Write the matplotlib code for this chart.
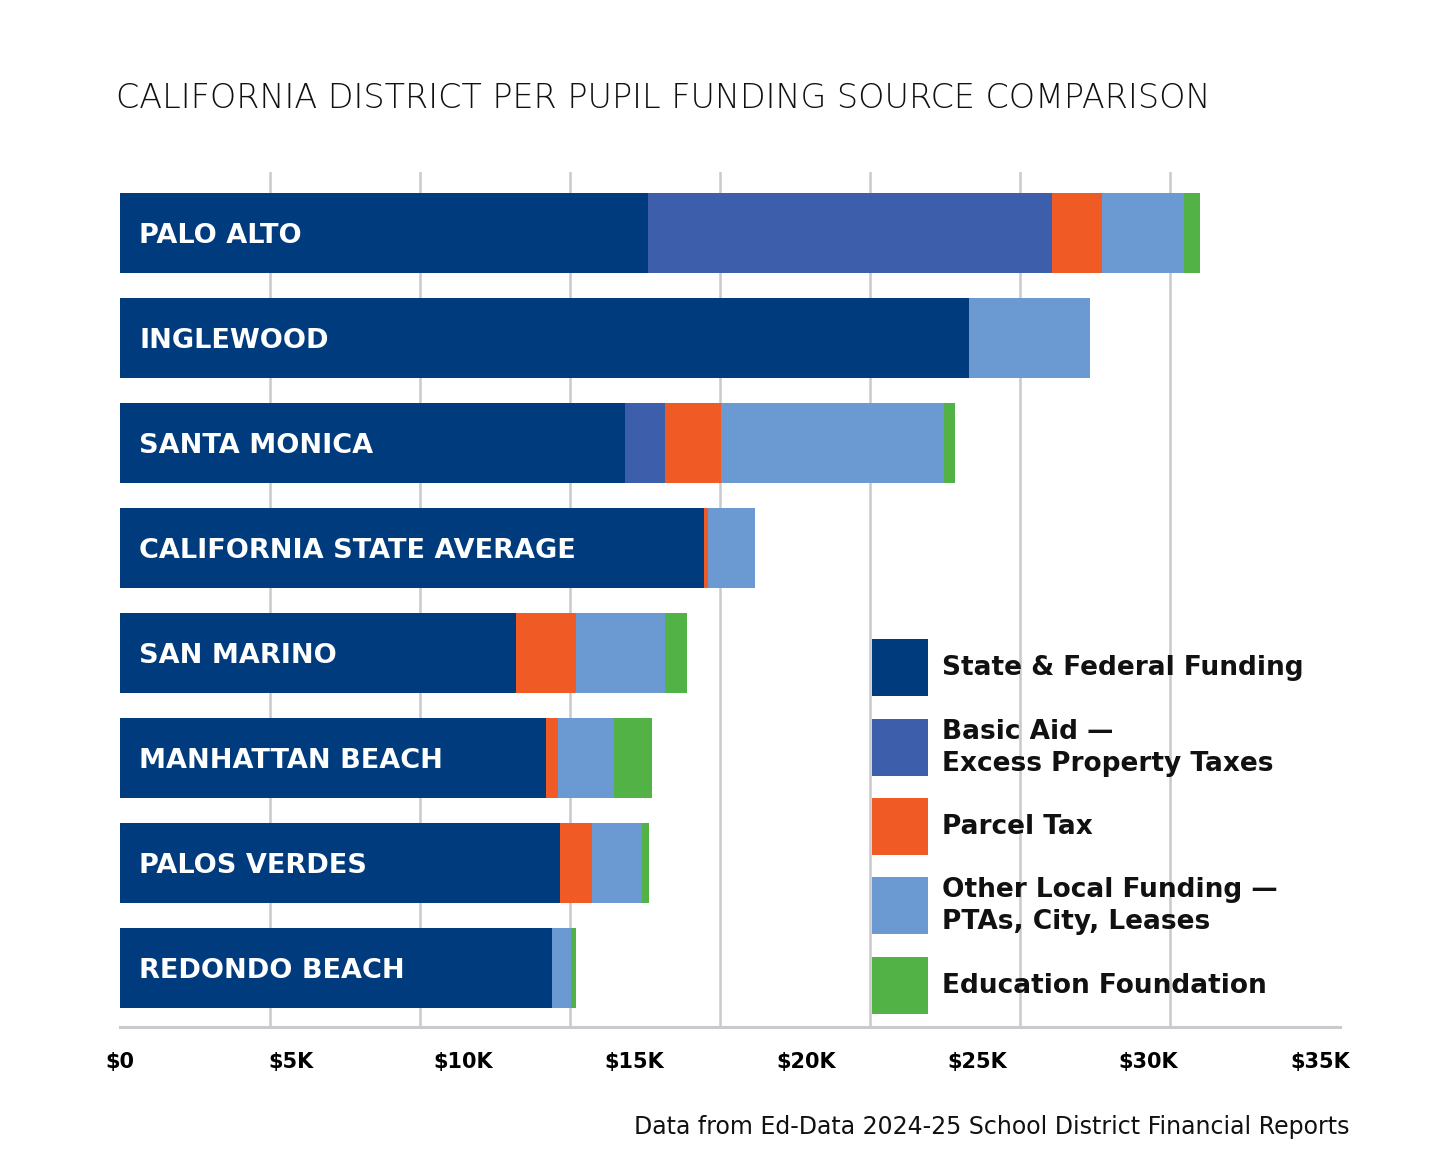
#Stacked per pupil funding bars for a few California districts
import matplotlib
matplotlib.use('Agg')
import matplotlib.pyplot as plt
import matplotlib.ticker as mtick
from matplotlib.patches import Rectangle
import numpy as np

#Data (dollars per pupil)
districts = ['PALO ALTO', 'INGLEWOOD', 'SANTA MONICA', 'CALIFORNIA STATE AVERAGE',
             'SAN MARINO', 'MANHATTAN BEACH', 'PALOS VERDES', 'REDONDO BEACH']
state_federal = [15400, 24750, 14730, 17040, 11540, 12420, 12830, 12600]
basic_aid     = [11780,     0,  1170,     0,     0,     0,     0,     0]
parcel_tax    = [ 1460,     0,  1630,   100,  1760,   360,   940,     0]
other_local   = [ 2380,  3530,  6490,  1380,  2600,  1640,  1460,   560]
ed_foundation = [  480,     0,   340,     0,   630,  1110,   200,   130]

sources = ['State & Federal Funding', 'Basic Aid \u2014\nExcess Property Taxes', 'Parcel Tax',
           'Other Local Funding \u2014\nPTAs, City, Leases', 'Education Foundation']
colors = ['#003C7D', '#3D5EAA', '#F05A24', '#6A9AD1', '#53B245']

xticks = [0, 5000, 10000, 15000, 20000, 25000, 30000, 35000]
xticklabels = ['$0', '$5K', '$10K', '$15K', '$20K', '$25K', '$30K', '$35K']

W, H = 1447, 1175
plt.rcParams['font.family'] = ['DejaVu Sans']

fig = plt.figure(figsize=(W/100., H/100.), dpi=100)
ax = fig.add_axes([120./W, 1-1027./H, 1220./W, (1027-172.)/H])

y = np.arange(len(districts))
left = np.zeros(len(districts))
for vals, col in zip([state_federal, basic_aid, parcel_tax, other_local, ed_foundation], colors):
    vals = np.array(vals, dtype=float)
    ax.barh(y, vals, left=left, height=0.76, color=col, linewidth=0, zorder=3)
    left += vals

for i, name in enumerate(districts):
    ax.annotate(name, (0, i), xytext=(14, -2.5), textcoords='offset points',
                ha='left', va='center', color='white', fontsize=19.5, fontweight='bold', zorder=5)

ax.set_ylim(7.562, -0.581)
ax.set_xlim(0, 35000*1220/1200.)

#gridlines sit at 1/8 steps of the label range, as in the original
ax.set_xticks(xticks)
ax.set_xticklabels(xticklabels, fontsize=15, fontweight='bold')
ax.xaxis.set_minor_locator(mtick.FixedLocator(np.arange(0, 35001, 35000/8.)))
ax.xaxis.grid(True, which='minor', color='#C9C9CE', linewidth=1.8, zorder=0)
ax.xaxis.grid(False, which='major')
ax.set_axisbelow(True)
ax.tick_params(axis='x', which='both', length=0, pad=18)
ax.set_yticks([])

for s in ['top', 'right', 'left']:
    ax.spines[s].set_visible(False)
ax.spines['bottom'].set_color('#C9C9CE')
ax.spines['bottom'].set_linewidth(2.2)

#legend, drawn by hand so the rows stay evenly spaced
row_y = [667, 747, 826, 905, 985]
for lab, col, yc in zip(sources, colors, row_y):
    fig.add_artist(Rectangle((872./W, 1-(yc+28.5)/H), 56./W, 57./H,
                             transform=fig.transFigure, facecolor=col, edgecolor='none', zorder=4))
    fig.text(942./W, 1-(yc+1)/H, lab, ha='left', va='center', fontsize=19, fontweight='bold',
             color='#111111', linespacing=1.3, zorder=5)

fig.text(116./W, 1-98./H, 'CALIFORNIA DISTRICT PER PUPIL FUNDING SOURCE COMPARISON',
         ha='left', va='center', fontsize=24, fontweight='light', color='#111111')
fig.text(1349./W, 1-1127./H, 'Data from Ed-Data 2024-25 School District Financial Reports',
         ha='right', va='center', fontsize=17, color='#111111')

plt.savefig('out.png', dpi=100)
